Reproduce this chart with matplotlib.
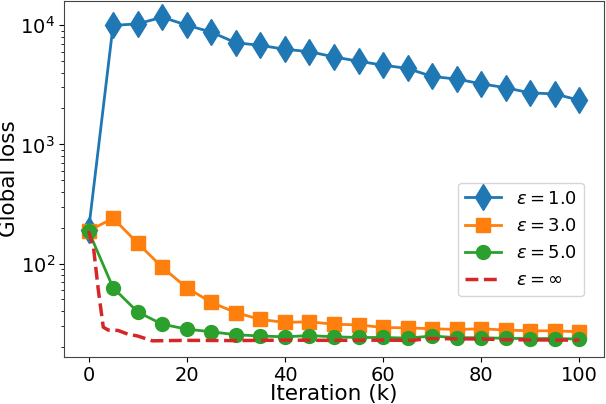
import matplotlib
matplotlib.use("Agg")
import matplotlib.pyplot as plt

iters = [0, 5, 10, 15, 20, 25, 30, 35, 40, 45, 50, 55, 60, 65, 70, 75, 80, 85, 90, 95, 100]
loss_eps1 = [190, 9950, 10250, 11660, 10000, 8740, 7120, 6770, 6275, 5990, 5410,
             4980, 4620, 4330, 3710, 3530, 3220, 2985, 2700, 2650, 2340]
loss_eps3 = [188, 240, 148.7, 93.2, 62.7, 47.3, 38.8, 34.0, 32.1, 32.5, 31.0,
             30.6, 29.1, 28.9, 28.4, 28.0, 28.4, 27.7, 27.3, 27.3, 26.8]
loss_eps5 = [188, 62.7, 39.3, 31.0, 28.2, 26.8, 25.3, 24.7, 24.3, 24.9, 24.3,
             24.0, 24.0, 23.7, 24.7, 23.9, 23.9, 23.6, 23.5, 23.5, 23.3]
iters_inf = [0, 1, 2, 3, 4, 6, 8, 10, 13, 20, 30, 40, 50, 60, 66, 69, 80, 85, 90, 100]
loss_inf = [188, 137, 59.6, 29.3, 27.7, 27.5, 25.6, 24.7, 22.5, 22.7, 22.6, 22.8,
            22.7, 22.8, 22.7, 23.5, 23.3, 23.0, 22.9, 22.8]
labels = [r"$\varepsilon = 1.0$", r"$\varepsilon = 3.0$", r"$\varepsilon = 5.0$", r"$\varepsilon = \infty$"]

fig = plt.figure(figsize=(6.06, 4.04), dpi=100)
ax = fig.add_axes([64/606, 1 - 357/404, 540/606, 356/404])

ax.plot(iters, loss_eps1, color="#1f77b4", marker="d", markersize=13, linewidth=2, label=labels[0])
ax.plot(iters, loss_eps3, color="#ff7f0e", marker="s", markersize=10, linewidth=2, label=labels[1])
ax.plot(iters, loss_eps5, color="#2ca02c", marker="o", markersize=10, linewidth=2, label=labels[2])
ax.plot(iters_inf, loss_inf, color="#d62728", linestyle="--", linewidth=2.5, label=labels[3])

ax.set_yscale("log")
ax.set_xlim(-5, 105)
ax.set_xlabel("Iteration (k)", fontsize=15.5, labelpad=-0.5)
ax.set_ylabel("Global loss", fontsize=15.5, labelpad=1)
ax.tick_params(axis="both", which="major", labelsize=14, pad=3)
for s in ax.spines.values():
    s.set_color("#444444")

ax.legend(loc="lower right", bbox_to_anchor=(0.963, 0.171), borderaxespad=0, fontsize=13)

fig.savefig("out.png", dpi=100)
